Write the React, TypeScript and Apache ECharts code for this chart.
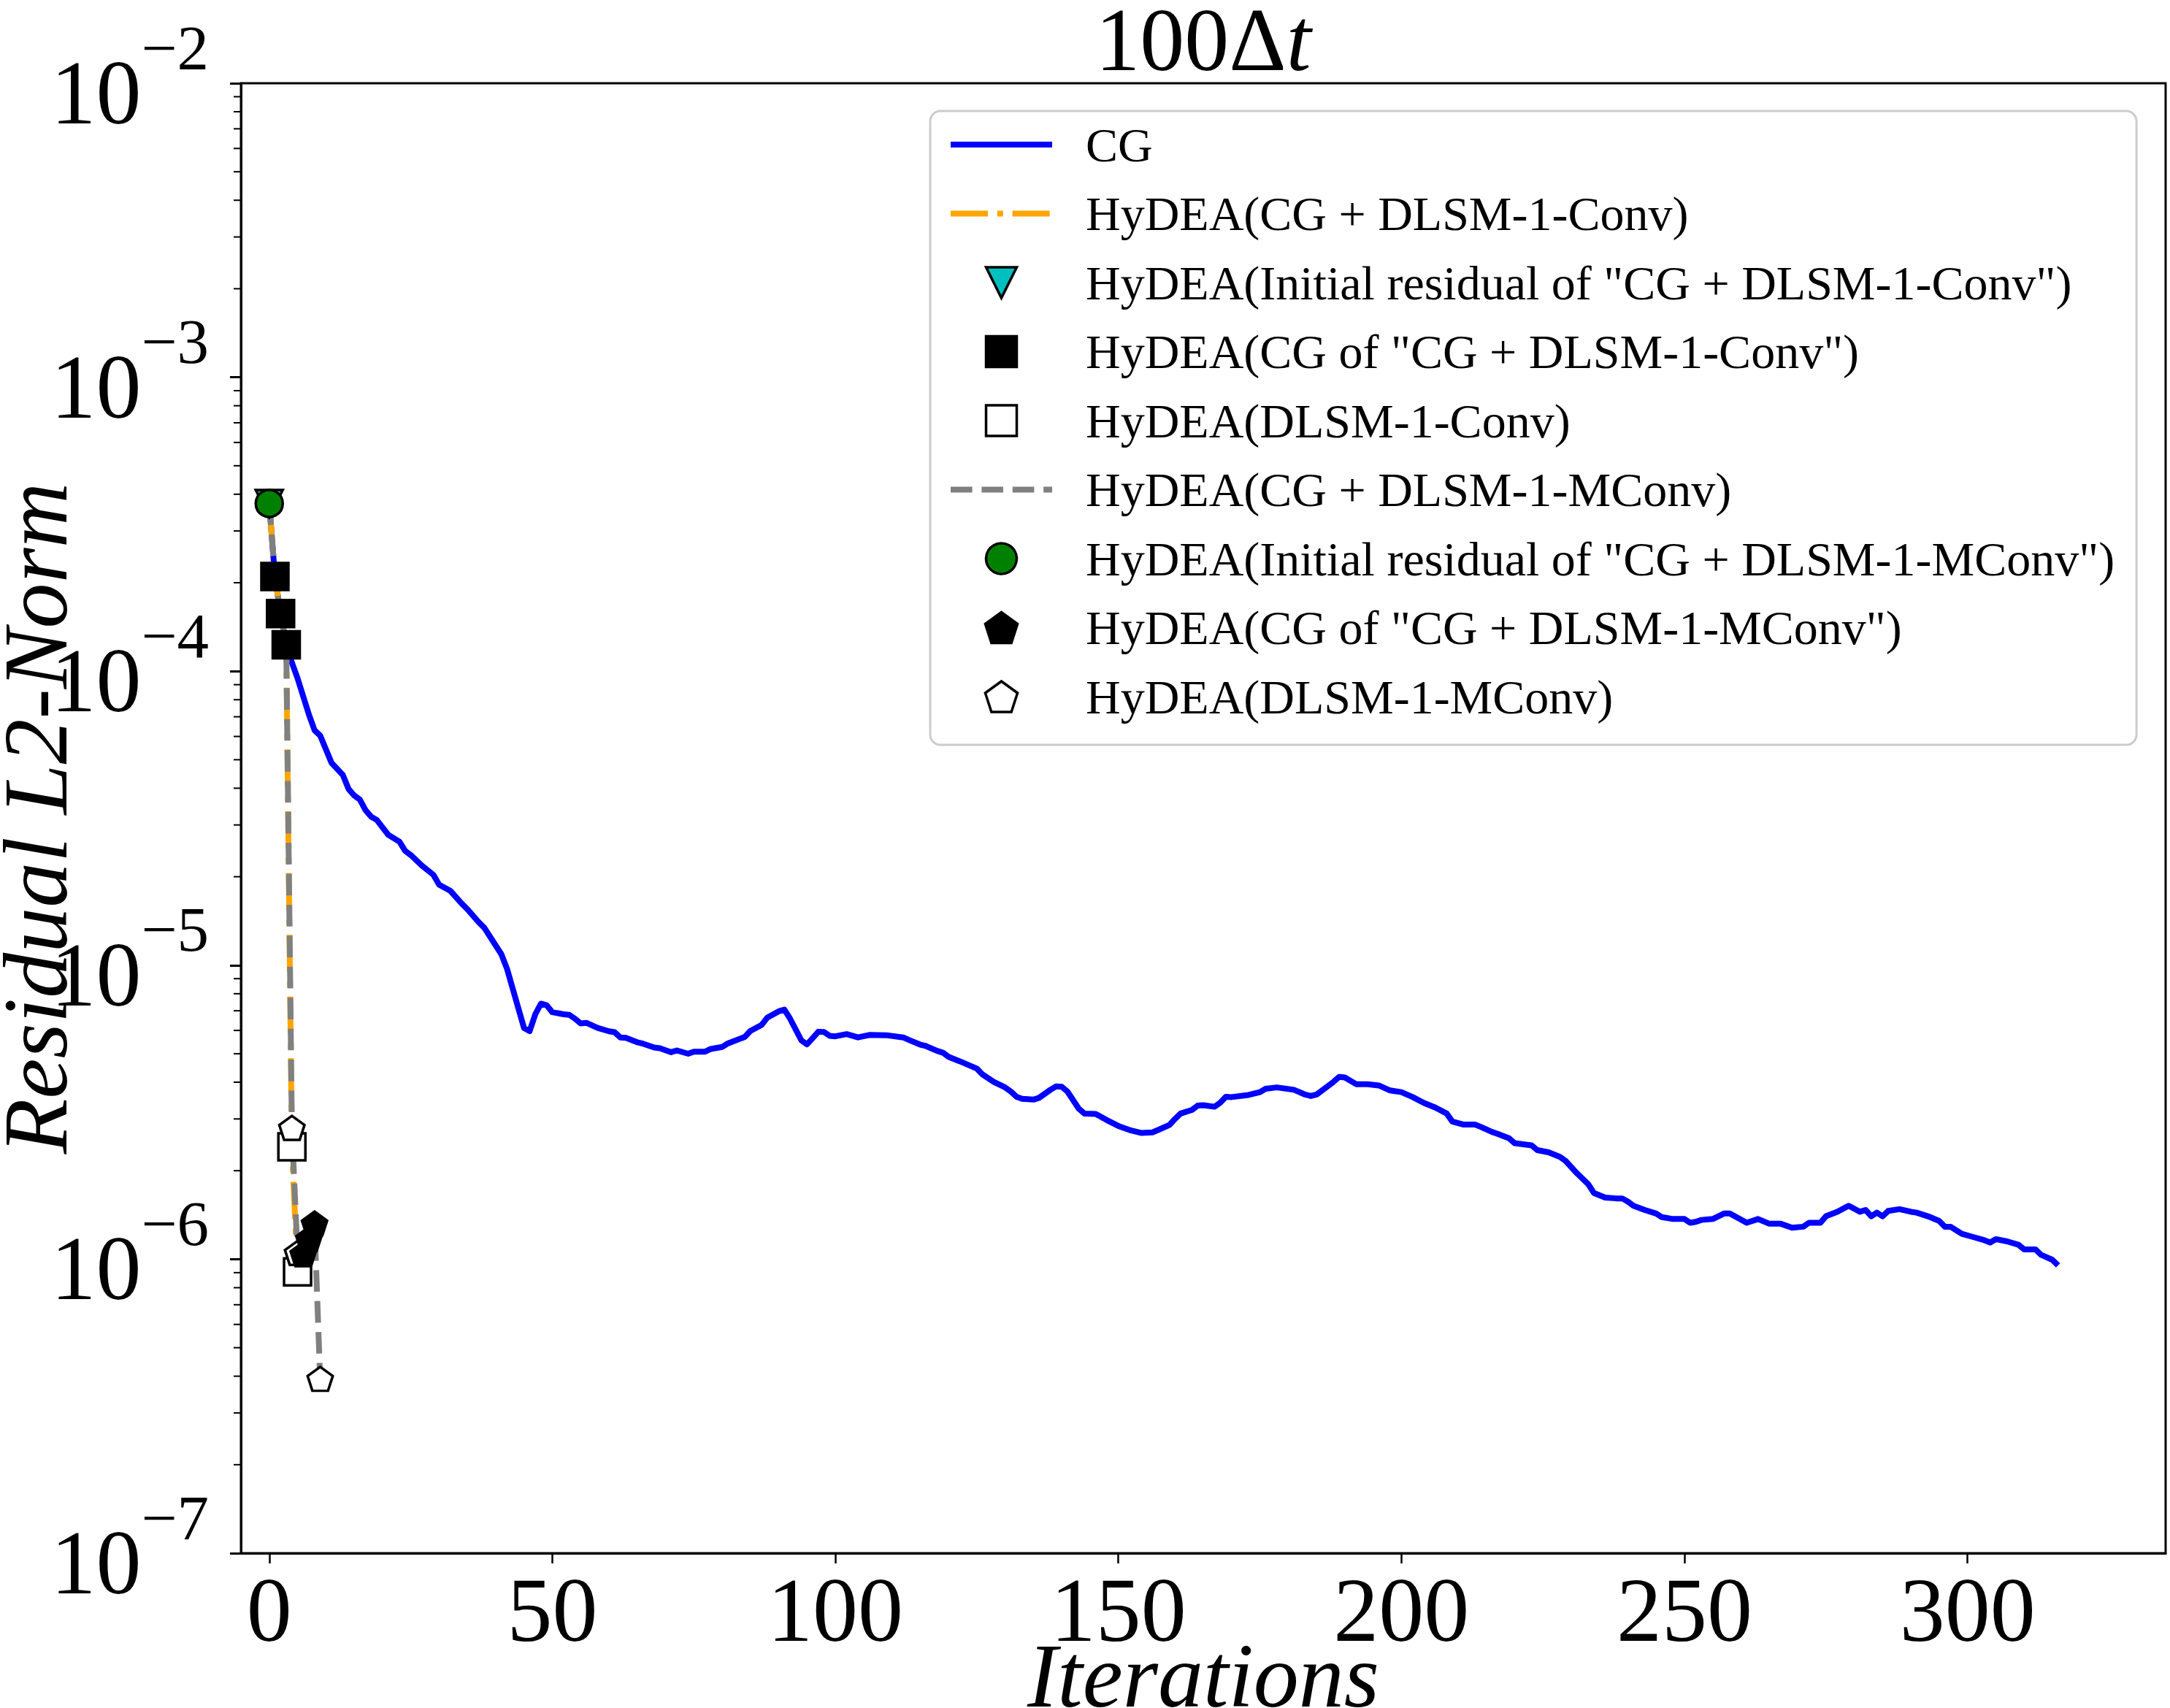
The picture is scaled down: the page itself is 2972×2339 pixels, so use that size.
import React, { useEffect, useRef } from "react";
import * as echarts from "echarts";

const FONT = '"Liberation Serif", "Times New Roman", serif';

// Plain CG residual history: [iteration, residual L2-norm]
const cgHistory: [number, number][] = [
  [0, 3.72e-4], [1, 2.1e-4], [2, 1.57e-4], [3, 1.23e-4], [4, 1.07e-4], [5, 9.46e-5],
  [7, 7.13e-5], [8, 6.3e-5], [9, 6.04e-5], [11, 4.88e-5], [13, 4.44e-5], [14, 3.98e-5],
  [15, 3.78e-5], [16, 3.66e-5], [17, 3.37e-5], [18, 3.2e-5], [19, 3.12e-5], [21, 2.78e-5],
  [23, 2.63e-5], [24, 2.45e-5], [25, 2.37e-5], [27, 2.18e-5], [29, 2.03e-5], [30, 1.88e-5],
  [32, 1.79e-5], [34, 1.62e-5], [35, 1.55e-5], [37, 1.4e-5], [38, 1.34e-5], [41, 1.09e-5],
  [42, 9.73e-6], [45, 6.12e-6], [46, 5.97e-6], [47, 6.81e-6], [48, 7.4e-6], [49, 7.31e-6],
  [50, 6.92e-6], [52, 6.81e-6], [53, 6.78e-6], [54, 6.58e-6], [55, 6.34e-6], [56, 6.37e-6],
  [58, 6.12e-6], [60, 5.96e-6], [61, 5.92e-6], [62, 5.68e-6], [63, 5.66e-6], [65, 5.47e-6],
  [66, 5.41e-6], [68, 5.25e-6], [69, 5.22e-6], [71, 5.06e-6], [72, 5.13e-6], [74, 5.0e-6],
  [75, 5.08e-6], [77, 5.08e-6], [78, 5.19e-6], [80, 5.27e-6], [81, 5.42e-6], [84, 5.7e-6],
  [85, 5.98e-6], [87, 6.27e-6], [88, 6.64e-6], [90, 6.97e-6], [91, 7.06e-6], [92, 6.58e-6],
  [93, 6.04e-6], [94, 5.55e-6], [95, 5.38e-6], [96, 5.65e-6], [97, 5.94e-6], [98, 5.93e-6],
  [99, 5.75e-6], [100, 5.73e-6], [102, 5.83e-6], [104, 5.68e-6], [106, 5.79e-6], [109, 5.78e-6],
  [112, 5.68e-6], [113, 5.57e-6], [115, 5.37e-6], [116, 5.31e-6], [118, 5.11e-6], [119, 5.04e-6],
  [120, 4.88e-6], [122, 4.71e-6], [125, 4.45e-6], [126, 4.25e-6], [128, 4.01e-6], [130, 3.84e-6],
  [131, 3.72e-6], [132, 3.57e-6], [133, 3.51e-6], [135, 3.49e-6], [136, 3.54e-6], [138, 3.77e-6],
  [139, 3.87e-6], [140, 3.86e-6], [141, 3.72e-6], [143, 3.25e-6], [144, 3.13e-6], [146, 3.12e-6],
  [148, 2.97e-6], [150, 2.84e-6], [152, 2.75e-6], [154, 2.69e-6], [156, 2.7e-6], [157, 2.75e-6],
  [159, 2.86e-6], [160, 3.0e-6], [161, 3.13e-6], [163, 3.22e-6], [164, 3.33e-6], [165, 3.34e-6],
  [167, 3.3e-6], [168, 3.41e-6], [169, 3.57e-6], [170, 3.56e-6], [173, 3.62e-6], [175, 3.7e-6],
  [176, 3.8e-6], [178, 3.84e-6], [181, 3.77e-6], [183, 3.63e-6], [184, 3.59e-6], [185, 3.63e-6],
  [186, 3.75e-6], [188, 4.01e-6], [189, 4.17e-6], [190, 4.15e-6], [192, 3.94e-6], [194, 3.94e-6],
  [196, 3.9e-6], [198, 3.75e-6], [200, 3.7e-6], [202, 3.56e-6], [204, 3.4e-6], [206, 3.28e-6],
  [208, 3.13e-6], [209, 2.94e-6], [211, 2.87e-6], [213, 2.87e-6], [214, 2.82e-6], [216, 2.71e-6],
  [217, 2.67e-6], [219, 2.58e-6], [220, 2.48e-6], [223, 2.44e-6], [224, 2.35e-6], [226, 2.31e-6],
  [228, 2.23e-6], [229, 2.16e-6], [231, 1.96e-6], [233, 1.8e-6], [234, 1.68e-6], [236, 1.62e-6],
  [238, 1.61e-6], [239, 1.61e-6], [240, 1.57e-6], [241, 1.52e-6], [243, 1.47e-6], [245, 1.43e-6],
  [246, 1.39e-6], [248, 1.37e-6], [250, 1.37e-6], [251, 1.33e-6], [252, 1.34e-6], [253, 1.36e-6],
  [255, 1.37e-6], [257, 1.43e-6], [258, 1.43e-6], [261, 1.33e-6], [263, 1.37e-6], [265, 1.32e-6],
  [267, 1.32e-6], [269, 1.28e-6], [271, 1.29e-6], [272, 1.33e-6], [274, 1.33e-6], [275, 1.4e-6],
  [277, 1.45e-6], [279, 1.52e-6], [281, 1.45e-6], [282, 1.47e-6], [283, 1.4e-6], [284, 1.44e-6],
  [285, 1.4e-6], [286, 1.46e-6], [288, 1.48e-6], [290, 1.45e-6], [291, 1.44e-6], [293, 1.4e-6],
  [295, 1.35e-6], [296, 1.29e-6], [297, 1.29e-6], [299, 1.22e-6], [301, 1.19e-6], [303, 1.16e-6],
  [304, 1.14e-6], [305, 1.17e-6], [307, 1.15e-6], [309, 1.12e-6], [310, 1.08e-6], [312, 1.08e-6],
  [313, 1.035e-6], [315, 9.95e-7], [316, 9.53e-7],
];

// HyDEA with DLSM-1-Conv: initial residual, 3 CG steps, 2 DLSM steps
const convIterations = [0, 1, 2, 3, 4, 5];
const convResidual = [3.72e-4, 2.1e-4, 1.57e-4, 1.23e-4, 2.41e-6, 9.06e-7];
const convInitialIdx = [0];
const convCgIdx = [1, 2, 3];
const convDlsmIdx = [4, 5];

// HyDEA with DLSM-1-MConv
const mconvIterations = [0, 1, 2, 3, 4, 5, 6, 7, 8, 9];
const mconvResidual = [3.72e-4, 2.1e-4, 1.57e-4, 1.23e-4, 2.77e-6, 1.04e-6, 1.03e-6, 1.16e-6, 1.31e-6, 3.88e-7];
const mconvInitialIdx = [0];
const mconvCgIdx = [6, 7, 8];
const mconvDlsmIdx = [4, 5, 9];

const xTicks = [0, 50, 100, 150, 200, 250, 300];
const yDecades = [-7, -6, -5, -4, -3];
const yMinorMultipliers = [2, 3, 4, 5, 6, 7, 8, 9];

const NAMES = {
  cg: "CG",
  conv: "HyDEA(CG + DLSM-1-Conv)",
  convInit: 'HyDEA(Initial residual of "CG + DLSM-1-Conv")',
  convCg: 'HyDEA(CG of "CG + DLSM-1-Conv")',
  convDlsm: "HyDEA(DLSM-1-Conv)",
  mconv: "HyDEA(CG + DLSM-1-MConv)",
  mconvInit: 'HyDEA(Initial residual of "CG + DLSM-1-MConv")',
  mconvCg: 'HyDEA(CG of "CG + DLSM-1-MConv")',
  mconvDlsm: "HyDEA(DLSM-1-MConv)",
};

const SQUARE = "path://M0,0L10,0L10,10L0,10Z";
const TRIANGLE_DOWN = "path://M0,0L20,0L10,20Z";
const PENTAGON = "path://M50,0L97.55,34.55L79.39,90.45L20.61,90.45L2.45,34.55Z";

const LW = 8;

const pick = (xs: number[], ys: number[], idx: number[]) => idx.map((i) => [xs[i], ys[i]]);

export default function App() {
  const ref = useRef<HTMLDivElement>(null);

  useEffect(() => {
    if (!ref.current) return;
    const chart = echarts.init(ref.current, null, { renderer: "svg" });

    const minorTickData: [number, number][] = [];
    yDecades.forEach((d) => yMinorMultipliers.forEach((m) => minorTickData.push([-5, m * Math.pow(10, d)])));

    const markerBase = { type: "scatter", z: 3, silent: true };
    const markerStyle = { borderColor: "#000", borderWidth: 3.5, opacity: 1 };
    const hiddenLegendSymbol = { itemStyle: { opacity: 0, color: "transparent", borderWidth: 0 } };

    const option: any = {
      animation: false,
      backgroundColor: "#ffffff",
      textStyle: { fontFamily: FONT },
      grid: {
        left: 330, top: 114, right: 6, bottom: 212,
        show: true, borderColor: "#000", borderWidth: 3, backgroundColor: "transparent",
        outerBoundsMode: "none",
      },
      graphic: [
        {
          type: "text", x: 1648, y: 54, silent: true,
          style: {
            text: "{n|100\u0394}{i|t}",
            align: "center", verticalAlign: "middle", fill: "#000",
            rich: {
              n: { fontFamily: FONT, fontSize: 122, lineHeight: 90, fill: "#000" },
              i: { fontFamily: FONT, fontSize: 122, lineHeight: 90, fontStyle: "italic", fill: "#000" },
            },
          },
        },
      ],
      legend: {
        data: [
          { name: NAMES.cg, ...hiddenLegendSymbol },
          { name: NAMES.conv, ...hiddenLegendSymbol },
          { name: NAMES.convInit },
          { name: NAMES.convCg },
          { name: NAMES.convDlsm },
          { name: NAMES.mconv, ...hiddenLegendSymbol },
          { name: NAMES.mconvInit },
          { name: NAMES.mconvCg },
          { name: NAMES.mconvDlsm },
        ],
        orient: "vertical", left: 1274, top: 152,
        itemWidth: 139, itemHeight: 42, itemGap: 28.5,
        padding: [13, 30, 33, 24],
        backgroundColor: "rgba(255,255,255,0.8)", borderColor: "#cccccc", borderWidth: 3, borderRadius: 14,
        selectedMode: false, symbolKeepAspect: true,
        textStyle: { fontFamily: FONT, fontSize: 66, color: "#000", padding: [0, 0, 0, 41] },
        itemStyle: { borderWidth: 3.5 },
        lineStyle: { width: LW },
      },
      xAxis: {
        type: "value", min: -5, max: 335,
        splitLine: { show: false },
        axisLine: { show: true, onZero: false, lineStyle: { color: "#000", width: 3 } },
        axisTick: { show: true, length: 14, customValues: xTicks, lineStyle: { color: "#000", width: 2.5 } },
        axisLabel: { customValues: xTicks, fontFamily: FONT, fontSize: 124, lineHeight: 100, color: "#000", margin: 28 },
        name: "Iterations", nameLocation: "middle", nameGap: 128, nameMoveOverlap: false,
        nameTextStyle: { fontFamily: FONT, fontSize: 124, lineHeight: 80, fontStyle: "italic", color: "#000" },
      },
      yAxis: {
        type: "log", logBase: 10, min: 1e-7, max: 1e-2,
        splitLine: { show: false },
        axisLine: { show: true, onZero: false, lineStyle: { color: "#000", width: 3 } },
        axisTick: { show: true, length: 15, lineStyle: { color: "#000", width: 3 } },
        axisLabel: {
          margin: 44, color: "#000",
          formatter: (v: number) => {
            const e = Math.round(Math.log10(v));
            return `{b|10}{s|${e < 0 ? "\u2212" : ""}${Math.abs(e)}}`;
          },
          rich: {
            b: { fontFamily: FONT, fontSize: 124, verticalAlign: "bottom", padding: [0, 0, 17, 0], color: "#000" },
            s: { fontFamily: FONT, fontSize: 87, verticalAlign: "top", padding: [0, 0, 98, 0], color: "#000" },
          },
        },
        name: "Residual L2-Norm", nameLocation: "middle", nameGap: 233, nameRotate: 90, nameMoveOverlap: false,
        nameTextStyle: { fontFamily: FONT, fontSize: 124, lineHeight: 96, fontStyle: "italic", color: "#000" },
      },
      series: [
        {
          name: NAMES.cg, type: "line", z: 2, data: cgHistory, symbol: "none", silent: true,
          lineStyle: { color: "#0000ff", width: LW, join: "round", cap: "butt" },
          itemStyle: { color: "#0000ff" },
        },
        {
          name: NAMES.conv, type: "line", z: 2, symbol: "none", silent: true,
          data: convIterations.map((x, i) => [x, convResidual[i]]),
          lineStyle: { color: "#ffa500", width: LW, type: [51, 12.8, 8, 12.8], cap: "butt", join: "round" },
          itemStyle: { color: "#ffa500" },
        },
        {
          name: NAMES.mconv, type: "line", z: 2, symbol: "none", silent: true,
          data: mconvIterations.map((x, i) => [x, mconvResidual[i]]),
          lineStyle: { color: "#808080", width: LW, type: [29.6, 12.8], cap: "butt", join: "round" },
          itemStyle: { color: "#808080" },
        },
        {
          ...markerBase, name: NAMES.convInit, symbol: TRIANGLE_DOWN, symbolSize: 37,
          data: pick(convIterations, convResidual, convInitialIdx),
          itemStyle: { ...markerStyle, color: "#00bfbf" },
        },
        {
          ...markerBase, name: NAMES.convCg, symbol: SQUARE, symbolSize: 37,
          data: pick(convIterations, convResidual, convCgIdx),
          itemStyle: { ...markerStyle, color: "#000000" },
        },
        {
          ...markerBase, name: NAMES.convDlsm, symbol: SQUARE, symbolSize: 37,
          data: pick(convIterations, convResidual, convDlsmIdx),
          itemStyle: { ...markerStyle, color: "#ffffff" },
        },
        {
          ...markerBase, name: NAMES.mconvInit, symbol: "circle", symbolSize: 37,
          data: pick(mconvIterations, mconvResidual, mconvInitialIdx),
          itemStyle: { ...markerStyle, color: "#008000" },
        },
        {
          ...markerBase, name: NAMES.mconvDlsm, symbol: PENTAGON, symbolSize: [34.5, 32.8], symbolOffset: [0, -1.7],
          data: pick(mconvIterations, mconvResidual, mconvDlsmIdx),
          itemStyle: { ...markerStyle, color: "#ffffff" },
        },
        {
          ...markerBase, name: NAMES.mconvCg, symbol: PENTAGON, symbolSize: [34.5, 32.8], symbolOffset: [0, -1.7],
          data: pick(mconvIterations, mconvResidual, mconvCgIdx),
          itemStyle: { ...markerStyle, color: "#000000" },
        },
        {
          // minor ticks of the logarithmic y axis
          name: "yMinorTicks", type: "custom", z: 4, silent: true, clip: false,
          data: minorTickData,
          renderItem: (_params: any, api: any) => {
            const p = api.coord([api.value(0), api.value(1)]);
            return {
              type: "line",
              shape: { x1: p[0] - 10, y1: p[1], x2: p[0], y2: p[1] },
              style: { stroke: "#000", lineWidth: 2 },
            };
          },
        },
      ],
    };

    chart.setOption(option);
    return () => chart.dispose();
  }, []);

  return (
    <div
      ref={ref}
      style={{ position: "fixed", left: 0, top: 0, width: 2972, height: 2339, background: "#fff" }}
    />
  );
}
